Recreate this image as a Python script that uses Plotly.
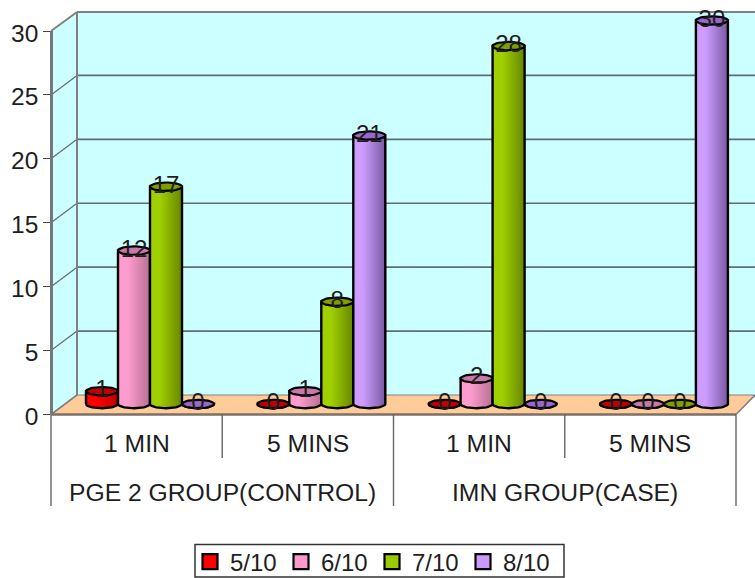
import numpy as np
import plotly.graph_objects as go

# Data
periods = ["1 MIN", "5 MINS", "1 MIN", "5 MINS"]
groups = ["PGE 2 GROUP(CONTROL)", "IMN GROUP(CASE)"]
series_names = ["5/10", "6/10", "7/10", "8/10"]
score_5 = [1, 0, 0, 0]
score_6 = [12, 1, 2, 0]
score_7 = [17, 8, 28, 0]
score_8 = [0, 21, 0, 30]
series_values = [score_5, score_6, score_7, score_8]
y_ticks = [0, 5, 10, 15, 20, 25, 30]

# Series styling: legend colour, gradient ends, cap colour
base_colors = ["#FF0000", "#FF99CC", "#99CC00", "#CC99FF"]
light_colors = ["#FF0000", "#FF9CCF", "#A0D000", "#CC9CFF"]
dark_colors = ["#C00000", "#B87094", "#678600", "#7A5AA2"]
cap_colors = ["#C00000", "#C878A8", "#7F9F00", "#9966CC"]

# Page and chart geometry, in page pixels
W, H = 755, 578
FRONT_LEFT, FRONT_RIGHT = 51, 736
BACK_LEFT, BACK_RIGHT = 77, 755
FRONT_ZERO, FRONT_TOP = 414.5, 31
BACK_ZERO, BACK_TOP = 395, 12
BAR_ZERO = 404
FIRST_CENTER = 150
CAT_STEP = 171.3
BAR_PX = 32
CAP_PX = 4.2
UNIT_PX = (FRONT_ZERO - FRONT_TOP) / 30

WALL = "#CCFFFF"
FLOOR = "#FFCC99"
EDGE = "#808080"
GRID = "#5F6F6F"
TEXT = "#1E1E1E"
FONT = "Liberation Sans"


def px(x):
    return x / W


def py(y):
    return 1 - y / H


def line(x0, y0, x1, y1, color=EDGE, width=2.0):
    return dict(type="line", xref="paper", yref="paper", x0=px(x0), y0=py(y0),
                x1=px(x1), y1=py(y1), line=dict(color=color, width=width), layer="below")


def poly(points, fill):
    path = "M" + " L".join(f"{px(a):.5f},{py(b):.5f}" for a, b in points) + " Z"
    return dict(type="path", xref="paper", yref="paper", path=path, fillcolor=fill,
                line=dict(width=0), layer="below")


# Walls and floor of the chart box
shapes = [
    poly([(BACK_LEFT, BACK_TOP), (BACK_RIGHT, BACK_TOP), (BACK_RIGHT, BACK_ZERO), (BACK_LEFT, BACK_ZERO)], WALL),
    poly([(FRONT_LEFT, FRONT_TOP), (BACK_LEFT, BACK_TOP), (BACK_LEFT, BACK_ZERO), (FRONT_LEFT, FRONT_ZERO)], WALL),
    poly([(BACK_LEFT, BACK_ZERO), (BACK_RIGHT, BACK_ZERO), (FRONT_RIGHT, FRONT_ZERO), (FRONT_LEFT, FRONT_ZERO)], FLOOR),
]
depth_y = FRONT_ZERO - BACK_ZERO
for t in y_ticks[1:-1]:
    yf = FRONT_ZERO - t * UNIT_PX
    shapes.append(line(FRONT_LEFT, yf, BACK_LEFT, yf - depth_y, GRID, 1.2))
    shapes.append(line(BACK_LEFT, yf - depth_y, BACK_RIGHT, yf - depth_y, GRID, 1.6))
shapes += [
    line(FRONT_LEFT, FRONT_TOP, BACK_LEFT, BACK_TOP, EDGE, 2),
    line(BACK_LEFT, BACK_TOP, BACK_RIGHT, BACK_TOP, EDGE, 2.2),
    line(BACK_LEFT, BACK_TOP, BACK_LEFT, BACK_ZERO, EDGE, 2),
    line(FRONT_LEFT, FRONT_ZERO, BACK_LEFT, BACK_ZERO, EDGE, 1.6),
    line(BACK_LEFT, BACK_ZERO, BACK_RIGHT, BACK_ZERO, EDGE, 1.2),
    line(FRONT_RIGHT, FRONT_ZERO, BACK_RIGHT, BACK_ZERO, EDGE, 1.6),
    line(FRONT_LEFT, FRONT_ZERO, FRONT_RIGHT, FRONT_ZERO, "#7A7068", 2.6),
]

# Category separators beneath the floor
cat_left = [FRONT_LEFT + i * (FRONT_RIGHT - FRONT_LEFT) / 4 for i in range(5)]
for i, xc in enumerate(cat_left):
    bottom = 506 if i % 2 == 0 else 458
    shapes.append(line(xc, FRONT_ZERO, xc, bottom, "#666666", 1.4))

# Frame around the legend
shapes.append(dict(type="rect", xref="paper", yref="paper", x0=px(195), x1=px(564), y0=py(577), y1=py(544.5),
                   line=dict(color="#333333", width=1.5), fillcolor="#FFFFFF", layer="below"))

fig = go.Figure()

bar_w = BAR_PX / CAT_STEP
cap_h = CAP_PX / UNIT_PX
cat_x = np.arange(len(periods), dtype=float)
t_front = np.linspace(np.pi, 2 * np.pi, 25)
t_full = np.linspace(0, 2 * np.pi, 49)

# Flat bars for each series
for s, (name, vals) in enumerate(zip(series_names, series_values)):
    fig.add_trace(go.Bar(x=cat_x, y=vals, yaxis="y2", width=bar_w, offset=(s - 2) * bar_w,
                         marker=dict(color=base_colors[s], line=dict(width=0)),
                         name=name, showlegend=False))

# Cylinder body and cap over each bar, left to right
for c in range(len(periods)):
    for s, vals in enumerate(series_values):
        v = vals[c]
        xm = cat_x[c] + (s - 1.5) * bar_w
        r = bar_w / 2
        xs = np.r_[xm + r * np.cos(t_front), xm + r, xm - r, xm - r]
        ys = np.r_[cap_h * np.sin(t_front), v, v, 0]
        fig.add_trace(go.Scatter(
            x=xs, y=ys, yaxis="y2", mode="lines", fill="toself",
            fillgradient=dict(type="horizontal",
                              colorscale=[[0, light_colors[s]], [0.3, light_colors[s]], [1, dark_colors[s]]]),
            line=dict(color="#000000", width=2.4), showlegend=False, hoverinfo="skip"))
        fig.add_trace(go.Scatter(
            x=xm + r * np.cos(t_full), y=v + cap_h * np.sin(t_full), yaxis="y2", mode="lines",
            fill="toself", fillcolor=cap_colors[s], line=dict(color="#000000", width=2.2),
            showlegend=False, hoverinfo="skip"))

# Value labels
for s, vals in enumerate(series_values):
    fig.add_trace(go.Scatter(
        x=cat_x + (s - 1.5) * bar_w, y=vals, yaxis="y2", mode="text",
        text=[str(v) for v in vals], textposition="middle center",
        textfont=dict(family=FONT, size=24, color=TEXT), showlegend=False, hoverinfo="skip"))

# Legend entries
for s, name in enumerate(series_names):
    fig.add_trace(go.Scatter(x=[None], y=[None], mode="markers", name=name,
                             marker=dict(symbol="square", size=15, color=base_colors[s],
                                         line=dict(color="#000000", width=2.2))))

# Category and group labels
annotations = []
for i, label in enumerate(periods):
    annotations.append(dict(text=label, xref="paper", yref="paper", showarrow=False,
                            xanchor="center", yanchor="middle",
                            x=px((cat_left[i] + cat_left[i + 1]) / 2), y=py(443)))
for i, label in enumerate(groups):
    annotations.append(dict(text=label, xref="paper", yref="paper", showarrow=False,
                            xanchor="center", yanchor="middle",
                            x=px((cat_left[2 * i] + cat_left[2 * i + 2]) / 2), y=py(492)))
for a in annotations:
    a["font"] = dict(family=FONT, size=24.7, color=TEXT)

fig.update_layout(
    width=W, height=H, margin=dict(l=0, r=0, t=0, b=0, autoexpand=False),
    paper_bgcolor="#FFFFFF", plot_bgcolor="rgba(0,0,0,0)",
    barmode="overlay", shapes=shapes, annotations=annotations,
    font=dict(family=FONT, size=24, color=TEXT),
    xaxis=dict(domain=[0, 1], range=[-FIRST_CENTER / CAT_STEP, (W - FIRST_CENTER) / CAT_STEP],
               visible=False, fixedrange=True),
    yaxis=dict(domain=[py(FRONT_ZERO), py(FRONT_TOP)], range=[0, 30], tickvals=y_ticks,
               anchor="free", position=px(FRONT_LEFT), side="left",
               showgrid=False, zeroline=False, showline=True, linecolor="#777777", linewidth=2.6,
               ticks="outside", ticklen=7, tickwidth=1.4, tickcolor="#444444", ticklabelshift=2,
               tickfont=dict(family=FONT, size=24.5, color=TEXT)),
    yaxis2=dict(domain=[0, 1], range=[(BAR_ZERO - H) / UNIT_PX, BAR_ZERO / UNIT_PX],
                anchor="x", visible=False, fixedrange=True),
    legend=dict(orientation="h", x=px(190), y=py(539.5), xanchor="left", yanchor="top",
                itemsizing="trace", entrywidth=46, entrywidthmode="pixels",
                bgcolor="rgba(0,0,0,0)", borderwidth=0,
                font=dict(family=FONT, size=24, color=TEXT)),
)

fig.write_html("out.html", config=dict(displayModeBar=False))
